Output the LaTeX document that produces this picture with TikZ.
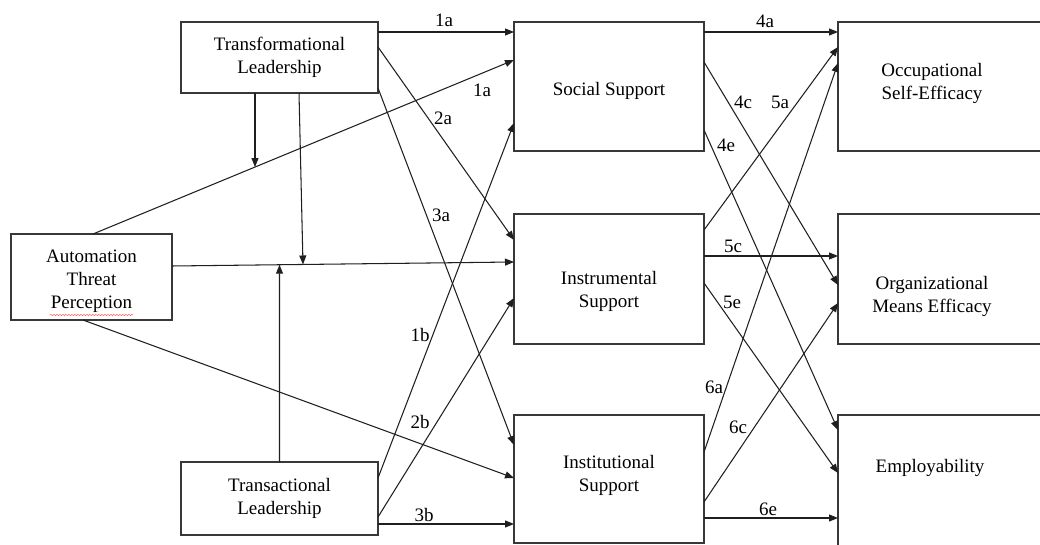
\documentclass[tikz,border=0pt]{standalone}
\usepackage{fontspec}
\newfontfamily\figfont{Liberation Serif}
\usetikzlibrary{arrows.meta,calc,decorations.pathmorphing}

\tikzset{
  box/.style={draw=black!78, line width=1.3pt, rectangle, inner sep=0pt, outer sep=0pt},
  txt/.style={align=center, inner sep=0pt, font=\figfont\fontsize{19}{23}\selectfont},
  lbl/.style={inner sep=0pt, font=\figfont\fontsize{19}{23}\selectfont},
  arr/.style={draw=black!88, line width=1.05pt, -{Triangle[length=9pt,width=7pt]}},
}

\begin{document}
\begin{tikzpicture}[x=1pt, y=-1pt]
  \fill[white] (0,0) rectangle (1040,545);
  \useasboundingbox (0,0) rectangle (1040,545);
  \clip (0,0) rectangle (1040,545);

  % ---- boxes ----
  \node[box, minimum width=197pt, minimum height=71pt]  (tfl) at (279.5,57.5) {};
  \node[box, minimum width=161pt, minimum height=86pt]  (atp) at (91.5,277) {};
  \node[box, minimum width=197pt, minimum height=73pt]  (tsl) at (279.5,498.5) {};
  \node[box, minimum width=190pt, minimum height=129pt] (ss)  at (609,86.5) {};
  \node[box, minimum width=190pt, minimum height=130pt] (ins) at (609,279) {};
  \node[box, minimum width=190pt, minimum height=128pt] (its) at (609,479) {};
  \node[box, minimum width=262pt, minimum height=129pt] (ose) at (969,86.5) {};
  \node[box, minimum width=262pt, minimum height=130pt] (ome) at (969,279) {};
  \node[box, minimum width=262pt, minimum height=145pt] (emp) at (969,487.5) {};

  % ---- box texts ----
  \node[txt] (tflt) at (279.5,57) {Transformational\\Leadership};
  \node[txt] (atpt) at (91.5,281) {Automation\\Threat\\Perception};
  \node[txt] (tslt) at (279.5,498) {Transactional\\Leadership};
  \node[txt] (sst)  at (609,91) {Social Support};
  \node[txt] (inst) at (609,291) {Instrumental\\Support};
  \node[txt] (itst) at (609,475) {Institutional\\Support};
  \node[txt] (oset) at (932,83) {Occupational\\Self-Efficacy};
  \node[txt] (omet) at (932,296) {Organizational\\Means Efficacy};
  \node[txt] (empt) at (930,468) {Employability};

  % spell-check squiggle under "Perception"
  \draw[red!65, line width=0.5pt, decorate,
        decoration={snake, amplitude=0.6pt, segment length=3pt}]
        (50,315) -- (133,315);

  % ---- leadership -> support ----
  \draw[arr] ([yshift=-10pt]tfl.north east) -- ([yshift=-10pt]ss.north west);
  \draw[arr] ([yshift=-25pt]tfl.north east) -- ([yshift=-26pt]ins.north west);
  \draw[arr] ([yshift=-66pt]tfl.north east) -- ([yshift=-30pt]its.north west);
  \draw[arr] ([yshift=-16pt]tsl.north east) -- ([yshift=-101pt]ss.north west);
  \draw[arr] ([yshift=-55pt]tsl.north east) -- ([yshift=-84pt]ins.north west);
  \draw[arr] ([yshift=-62pt]tsl.north east) -- ([yshift=-109pt]its.north west);

  % ---- threat perception -> support ----
  \coordinate (a1) at ([xshift=1.5pt]atp.north);
  \coordinate (b1) at ([yshift=-38pt]ss.north west);
  \coordinate (a2) at ([yshift=-32pt]atp.north east);
  \coordinate (b2) at ([yshift=-48pt]ins.north west);
  \draw[arr] (a1) -- (b1);
  \draw[arr] (a2) -- (b2);
  \draw[arr] ([xshift=-8.5pt]atp.south) -- ([yshift=-63pt]its.north west);

  % ---- moderating paths ----
  \coordinate (m1) at ($(a1)!{(255-93)/(514-93)}!(b1)$);
  \coordinate (m2) at ($(a2)!{(303-172)/(514-172)}!(b2)$);
  \coordinate (m3) at ($(a2)!{(279.5-172)/(514-172)}!(b2)$);
  \draw[arr] (tfl.south -| m1) -- (m1);
  \draw[arr] ([xshift=19.5pt]tfl.south) -- (m2);
  \draw[arr] (tsl.north) -- (m3);

  % ---- support -> outcomes ----
  \draw[arr] ([yshift=-10pt]ss.north east)  -- ([yshift=-10pt]ose.north west);
  \draw[arr] ([yshift=-40pt]ss.north east)  -- ([yshift=-71pt]ome.north west);
  \draw[arr] ([yshift=-108pt]ss.north east) -- ([yshift=-15pt]emp.north west);
  \draw[arr] ([yshift=-16pt]ins.north east) -- ([yshift=-25pt]ose.north west);
  \draw[arr] ([yshift=-42pt]ins.north east) -- ([yshift=-42pt]ome.north west);
  \draw[arr] ([yshift=-69pt]ins.north east) -- ([yshift=-58pt]emp.north west);
  \draw[arr] ([yshift=-37pt]its.north east) -- ([yshift=-41pt]ose.north west);
  \draw[arr] ([yshift=-87pt]its.north east) -- ([yshift=-89pt]ome.north west);
  \draw[arr] ([yshift=-103pt]its.north east) -- ([yshift=-103pt]emp.north west);

  % ---- path labels ----
  \node[lbl] (l1a)  at (444,20)  {1a};
  \node[lbl] (l1ab) at (482,90)  {1a};
  \node[lbl] (l2a)  at (443,118) {2a};
  \node[lbl] (l3a)  at (441,215) {3a};
  \node[lbl] (l1b)  at (420,335) {1b};
  \node[lbl] (l2b)  at (420,422) {2b};
  \node[lbl] (l3b)  at (424,515) {3b};
  \node[lbl] (l4a)  at (765,21)  {4a};
  \node[lbl] (l4c)  at (743,102) {4c};
  \node[lbl] (l5a)  at (780,102) {5a};
  \node[lbl] (l4e)  at (726,145) {4e};
  \node[lbl] (l5c)  at (733,246) {5c};
  \node[lbl] (l5e)  at (732,302) {5e};
  \node[lbl] (l6a)  at (714,387) {6a};
  \node[lbl] (l6c)  at (738,427) {6c};
  \node[lbl] (l6e)  at (768,509) {6e};
\end{tikzpicture}
\end{document}
